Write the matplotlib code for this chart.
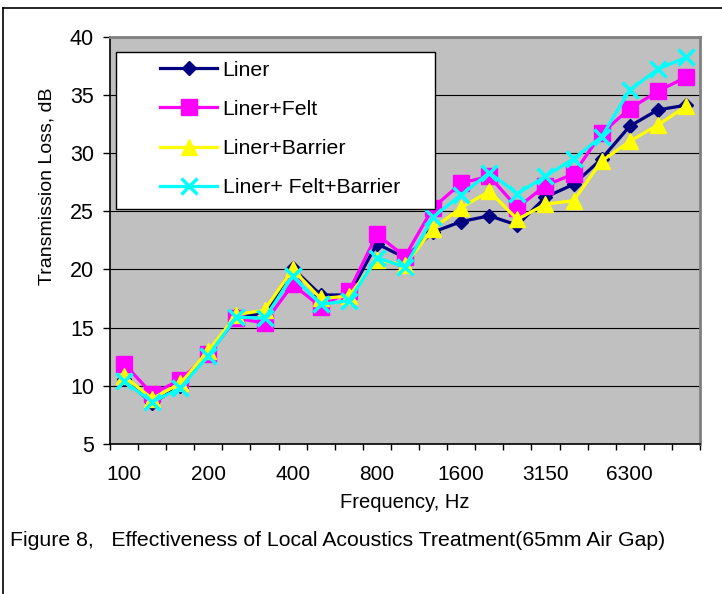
import matplotlib
matplotlib.use("Agg")
import matplotlib.pyplot as plt
from matplotlib.lines import Line2D
from matplotlib.patches import Rectangle
from matplotlib import font_manager
import numpy as np

plt.rcParams['font.family'] = ['Liberation Sans', 'DejaVu Sans']

frequencies = ["100", "125", "160", "200", "250", "315", "400", "500", "630", "800",
               "1000", "1250", "1600", "2000", "2500", "3150", "4000", "5000", "6300",
               "8000", "10000"]
shown_labels = ["100", "200", "400", "800", "1600", "3150", "6300"]

liner = [10.6, 8.5, 10.0, 12.8, 16.1, 16.1, 20.1, 17.8, 17.8, 22.2, 21.0, 23.2, 24.1,
         24.6, 23.8, 26.2, 27.3, 29.5, 32.3, 33.7, 34.1]
liner_felt = [11.9, 9.3, 10.5, 12.7, 15.8, 15.4, 18.7, 16.8, 18.1, 23.0, 21.1, 25.3, 27.4,
              28.0, 25.3, 27.2, 28.2, 31.7, 33.8, 35.3, 36.5]
liner_barrier = [10.8, 8.9, 10.2, 13.0, 16.1, 16.5, 20.0, 17.5, 17.7, 20.8, 20.4, 23.5, 25.3,
                 26.7, 24.3, 25.6, 25.9, 29.3, 31.0, 32.4, 34.0]
liner_felt_barrier = [10.4, 8.6, 9.8, 12.6, 15.9, 15.8, 19.4, 17.0, 17.3, 21.0, 20.2, 24.5, 26.4,
                      28.3, 26.5, 28.0, 29.5, 31.4, 35.4, 37.2, 38.2]

series_names = ["Liner", "Liner+Felt", "Liner+Barrier", "Liner+ Felt+Barrier"]
series_values = [liner, liner_felt, liner_barrier, liner_felt_barrier]
colors = ["#000080", "#FF00FF", "#FFFF00", "#00FFFF"]
markers = ["D", "s", "^", "x"]
msizes = [7.5, 11, 11.5, 11]
mews = [1, 1, 1, 2.5]

installed = {f.name for f in font_manager.fontManager.ttflist}
if "Liberation Sans Narrow" in installed:
    legend_font = {"family": ["Liberation Sans Narrow", "DejaVu Sans"], "size": 17.5}
else:
    legend_font = {"family": ["Liberation Sans", "DejaVu Sans"], "size": 15.3}

W, H = 722, 594
fig = plt.figure(figsize=(W / 100, H / 100), dpi=100)
fig.patch.set_facecolor("white")

def fx(px):
    return px / W

def fy(py):
    return 1 - py / H

# figure frame (left and top)
fig.add_artist(Line2D([fx(3), fx(3)], [0, fy(8)], color="black", lw=1.2, transform=fig.transFigure))
fig.add_artist(Line2D([fx(3), 1], [fy(8), fy(8)], color="black", lw=1.2, transform=fig.transFigure))

left, right, top, bottom = 110, 700, 36.5, 444
ax = fig.add_axes([fx(left), fy(bottom), (right - left) / W, (bottom - top) / H])
ax.set_facecolor("#C0C0C0")

x = np.arange(len(frequencies))
for name, vals, c, m, ms, mew in zip(series_names, series_values, colors, markers, msizes, mews):
    ax.plot(x, vals, color=c, lw=2.3, marker=m, markersize=ms, markerfacecolor=c,
            markeredgecolor=c, markeredgewidth=mew, label=name, zorder=3)

ax.set_xlim(-0.5, len(frequencies) - 0.5)
ax.set_ylim(5, 40)
ax.set_yticks(np.arange(5, 41, 5))
ax.yaxis.grid(True, color="black", lw=0.8, zorder=1)
ax.set_axisbelow(True)

ax.set_xticks(np.arange(-0.5, len(frequencies), 1.0))
ax.set_xticklabels([])
ax.set_xticks([frequencies.index(f) for f in shown_labels], minor=True)
ax.set_xticklabels(shown_labels, minor=True)
ax.tick_params(axis="x", which="major", length=4.5, width=1, direction="out", colors="black")
ax.tick_params(axis="x", which="minor", length=0, pad=15, labelsize=15)
ax.tick_params(axis="y", length=5, width=1, direction="out", pad=6.5, labelsize=15.5)

for s in ["left", "bottom"]:
    ax.spines[s].set_color("black")
    ax.spines[s].set_linewidth(1.2)
for s in ["right", "top"]:
    ax.spines[s].set_color("#808080")
    ax.spines[s].set_linewidth(2)

ax.set_ylabel("Transmission Loss, dB", fontsize=14)
ax.yaxis.set_label_coords((47 - left) / (right - left), (bottom - 186) / (bottom - top))
ax.yaxis.label.set_va("center")
ax.set_xlabel("Frequency, Hz", fontsize=14.5)
ax.xaxis.set_label_coords(0.5, (bottom - 502) / (bottom - top))
ax.xaxis.label.set_va("center")

# legend box
box = Rectangle((fx(116), fy(209)), (435 - 116) / W, (209 - 52) / H,
                transform=fig.transFigure, facecolor="white", edgecolor="black",
                lw=1.0, zorder=4, clip_on=False)
ax.add_artist(box)
leg = ax.legend(loc="center left", bbox_to_anchor=(fx(160), fy(129)),
                bbox_transform=fig.transFigure, frameon=False, prop=legend_font,
                handlelength=2.7, handletextpad=0.25, labelspacing=0.95, borderpad=0,
                borderaxespad=0)
leg.set_zorder(5)

fig.text(fx(10), fy(545.5), "Figure 8,   Effectiveness of Local Acoustics Treatment(65mm Air Gap)",
         fontsize=15.3, ha="left", va="baseline")

fig.savefig("out.png", dpi=100)
